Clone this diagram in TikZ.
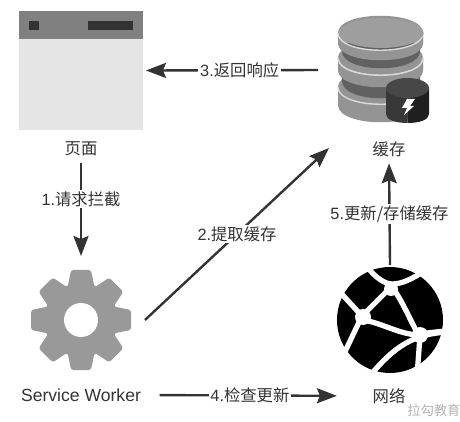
\documentclass[tikz,border=0pt]{standalone}
\usepackage{fontspec}
\setmainfont{Liberation Sans}
\newfontfamily\cjk{Noto Sans CJK SC}
\usepackage{tikz}
\usetikzlibrary{arrows.meta}
\usepackage{xcolor}

\definecolor{inkgray}{HTML}{333333}
\definecolor{gearfill}{HTML}{999999}

\begin{document}
\begin{tikzpicture}[
    x=0.02cm, y=-0.02cm,
    arrow/.style={-{Stealth[length=0.4cm,width=0.3cm,inset=0.06cm]}, inkgray, line width=1.35pt},
    label/.style={text=inkgray, font=\fontsize{9.3}{11}\selectfont\cjk, inner sep=0.8pt},
    steplabel/.style={label, fill=white, inner sep=1pt},
    icon/.style={inner sep=0pt, outer sep=0pt}
]
    \useasboundingbox (0,0) rectangle (460,422);

    % Page
    \node[icon, fill=black!10, minimum width=2.48cm, minimum height=2.38cm] (page) at (81,70.5) {};
    \fill[black!50] (19,11.5) rectangle (143,39.5);
    \fill[inkgray] (29,21) rectangle (39,30);
    \fill[inkgray] (88,21) rectangle (133,30);
    \node[label] (pagelabel) at (81,149) {页面};

    % Cache
    \node[icon, minimum width=2.08cm, minimum height=3.12cm] (cache) at (381,70) {};
    \foreach \y/\b in {87/105,58/70,33/43} {
        \fill[black!42] (338,\y) .. controls (338,\y-23) and (423,\y-23) .. (423,\y)
            -- (423,\b) .. controls (423,\b+23) and (338,\b+23) .. (338,\b) -- cycle;
        \draw[black!15, line width=0.8pt] (338,\y) .. controls (338,\y+23) and (423,\y+23) .. (423,\y);
    }
    \fill[black!62] (342,76) -- (420,76) -- (420,81) .. controls (420,104) and (342,104) .. (342,81) -- cycle;
    \fill[black!42] (338,58) .. controls (338,81) and (423,81) .. (423,58) -- (423,70) .. controls (423,93) and (338,93) .. (338,70) -- cycle;
    \draw[black!15, line width=0.8pt] (338,58) .. controls (338,81) and (423,81) .. (423,58);
    \fill[black!62] (342,43) -- (420,43) -- (420,51) .. controls (420,74) and (342,74) .. (342,51) -- cycle;
    \fill[black!42] (338,33) .. controls (338,56) and (423,56) .. (423,33) -- (423,43) .. controls (423,66) and (338,66) .. (338,43) -- cycle;
    \draw[black!15, line width=0.8pt] (338,33) .. controls (338,56) and (423,56) .. (423,33);
    \fill[black!38] (381,33) ellipse (42.5 and 15);

    % Small cylinder on the cache
    \fill[black!78] (386,88) -- (407.5,88) -- (407.5,123) .. controls (396,123) and (386,120) .. (386,114) -- cycle;
    \fill[black!88] (429,88) -- (407.5,88) -- (407.5,123) .. controls (419,123) and (429,120) .. (429,114) -- cycle;
    \fill[black!72] (407.5,88) ellipse (21.5 and 10);
    \fill[white] (407,99) -- (415,99) -- (410,106) -- (414,106) -- (404,115) -- (407,108) -- (402,108) -- cycle;
    \node[label] (cachelabel) at (389,149) {缓存};

    % Service worker gear
    \node[icon, minimum size=2.56cm] (gear) at (81,320) {};
    \foreach \a in {0,45,...,315} {
        \fill[gearfill, rounded corners=1.5pt, rotate around={\a:(81,320)}]
            (67,290) -- (71,270) -- (91,270) -- (95,290) -- cycle;
    }
    \fill[gearfill] (81,320) circle (37);
    \fill[white] (81,320) circle (17);
    \node[label, font=\fontsize{10}{12}\selectfont] (gearlabel) at (81,395) {Service Worker};

    % Network globe
    \node[icon, minimum size=2.2cm] (globe) at (390,320) {};
    \fill[black] (390,320) circle (53);
    \begin{scope}[white, line width=3pt]
        \draw (368,268) .. controls (376,278) and (385,284) .. (392,284) .. controls (402,284) and (412,279) .. (426,270);
        \draw (390,288) -- (362,316);
        \draw (338,290) -- (362,316);
        \draw (361,318) -- (342,358);
        \draw (362,320) .. controls (380,322) and (398,334) .. (418,335);
        \draw (392,287) .. controls (402,300) and (410,320) .. (418,334);
        \draw (447,332) .. controls (415,334) and (395,345) .. (369,377);
        \draw (420,336) -- (417,376);
        \draw (418,334) -- (445,331);
        \fill (391,289) circle (7);
        \fill (363,317) circle (8);
        \fill (420,335) circle (8);
    \end{scope}
    \node[label] (globelabel) at (389,396) {网络};

    % Steps
    \draw[arrow, shorten <=0.22cm, shorten >=0.06cm] (cache.west) -- node[steplabel, pos=.48] {{\rmfamily 3.}返回响应} (page.east);
    \draw[arrow, shorten <=0.1cm] (pagelabel.south) -- node[steplabel, pos=.42] {{\rmfamily 1.}请求拦截} (gear.north);
    \draw[arrow] (gear.east) -- node[steplabel, pos=.5] {{\rmfamily 2.}提取缓存} (cache.south west);
    \draw[arrow, shorten <=0.34cm, shorten >=0.68cm] (gearlabel.east) -- node[steplabel, pos=.47] {{\rmfamily 4.}检查更新} (globelabel.west);
    \draw[arrow, shorten >=0.1cm] (globe.north) -- node[steplabel, pos=.48] {{\rmfamily 5.}更新/存储缓存} (cachelabel.south);

    % Watermark
    \node[label, text=black!30, font=\fontsize{7.5}{9}\selectfont\cjk] (mark) at (434,410) {拉勾教育};
\end{tikzpicture}
\end{document}
